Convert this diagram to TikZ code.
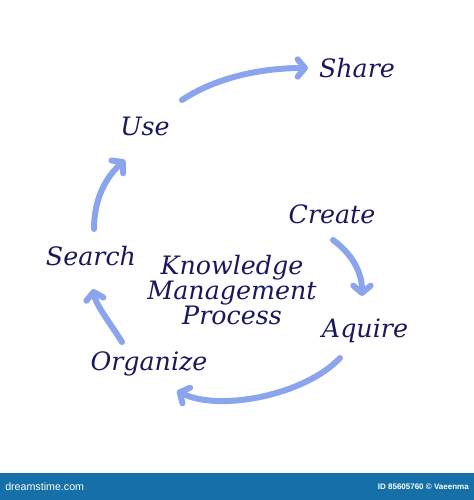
\documentclass[tikz,border=0pt]{standalone}
\usepackage{xcolor}
\usepackage{fontspec}
\usepackage{tikz}
\usetikzlibrary{arrows.meta}
\newfontfamily\handfont{DejaVu Serif}
\newfontfamily\barfont{Liberation Sans}
\definecolor{ink}{RGB}{24,24,92}
\definecolor{flow}{RGB}{138,164,238}
\definecolor{barblue}{RGB}{22,112,168}

\begin{document}
\begin{tikzpicture}[x=0.75pt,y=-0.75pt,
  step label/.style={anchor=base,inner sep=0pt,text=ink,
    font=\handfont\itshape\fontsize{19}{19}\selectfont},
  flow arrow/.style={draw=flow,line width=4.5pt,line cap=round,
    -{Straight Barb[length=5.5pt,width=13pt,round]}}]
  \useasboundingbox (0,0) rectangle (474,500);

  \node[step label] (share)    at (357,77)  {Share};
  \node[step label] (use)      at (145,135) {Use};
  \node[step label] (create)   at (332,223) {Create};
  \node[step label] (search)   at (91,265)  {Search};
  \node[step label] (aquire)   at (365,337) {Aquire};
  \node[step label] (organize) at (149,370) {Organize};
  \node[step label,anchor=center,align=center] (kmp) at (232,290)
    {Knowledge\\Management\\Process};

  \coordinate (use-out)      at (182,100);
  \coordinate (share-in)     at (308,68);
  \coordinate (create-out)   at (333,240);
  \coordinate (aquire-in)    at (362,296);
  \coordinate (aquire-out)   at (340,358);
  \coordinate (organize-in)  at (177,391);
  \coordinate (organize-out) at (122,342);
  \coordinate (search-in)    at (93,289);
  \coordinate (search-out)   at (94,229);
  \coordinate (use-in)       at (125,160);

  \draw[flow arrow] (use-out) .. controls (215,78) and (260,68) .. (share-in);
  \draw[flow arrow] (create-out) .. controls (352,254) and (362,272) .. (aquire-in);
  \draw[flow arrow] (aquire-out) .. controls (305,395) and (220,412) .. (organize-in);
  \draw[flow arrow] (organize-out) .. controls (108,320) and (96,305) .. (search-in);
  \draw[flow arrow] (search-out) .. controls (94,200) and (105,178) .. (use-in);

  \fill[barblue] (0,473) rectangle (474,500);
  \node[anchor=west,text=white,inner sep=0pt,font=\barfont\fontsize{8}{8}\selectfont]
    (site) at (5,487) {dreamstime.com};
  \node[anchor=east,text=white,inner sep=0pt,font=\barfont\bfseries\fontsize{6}{6}\selectfont]
    (credit) at (469,487) {ID 85605760 © Vaeenma};
\end{tikzpicture}
\end{document}
